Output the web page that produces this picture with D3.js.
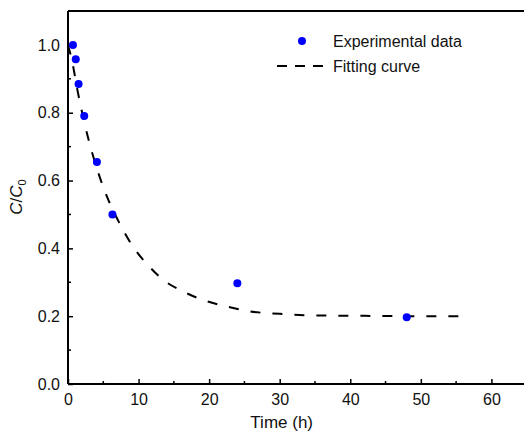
<!DOCTYPE html>
<html>
<head>
<meta charset="utf-8">
<script src="https://cdn.jsdelivr.net/npm/d3@7"></script>
<style>
  body { margin: 0; background: #fff; }
  svg { display: block; font-family: "Liberation Sans", Arial, sans-serif; }
</style>
</head>
<body>
<svg id="chart"></svg>
<script>
// experimental points (time in h, C/C0)
const expTime = [0.7, 1.1, 1.5, 2.3, 4.1, 6.3, 24, 48];
const expValue = [1.0, 0.958, 0.885, 0.79, 0.655, 0.5, 0.297, 0.197];

// fitting curve
const fitTime = [0, 0.5, 1.4, 2.8, 4.5, 5.9, 7.3, 9.2, 11.1, 13.5, 16.3, 19.1, 22.4, 25.8, 30, 35.2, 42, 48, 56];
const fitValue = [1.0, 0.96, 0.86, 0.73, 0.61, 0.534, 0.474, 0.405, 0.356, 0.307, 0.273, 0.248, 0.229, 0.214, 0.207, 0.202, 0.201, 0.2, 0.2];

const xTicks = [0, 10, 20, 30, 40, 50, 60];
const yTicks = [0.0, 0.2, 0.4, 0.6, 0.8, 1.0];

const W = 524, H = 434;
var margin = { top: 11, left: 68, bottom: 50 };
var height = H - margin.top - margin.bottom;

const svg = d3.select("#chart").attr("width", W).attr("height", H);
const g = svg.append("g").attr("transform", `translate(${margin.left},${margin.top})`);

const x = d3.scaleLinear().domain([0, 60]).range([0, 423.4]);
const y = d3.scaleLinear().domain([0, 1.1]).range([height, 0]);
const xMax = x(65);

// frame (left, bottom, top)
g.append("line").attr("x1", 0).attr("x2", xMax).attr("y1", 0).attr("y2", 0)
  .attr("stroke", "#000").attr("stroke-width", 2);

// X axis with inner ticks
const xAxis = g.append("g").attr("transform", `translate(0,${height})`)
  .call(d3.axisBottom(x).tickValues(xTicks).tickSize(-5).tickPadding(9).tickFormat(d3.format("d")));
xAxis.select(".domain").attr("d", `M0,0H${xMax}`).attr("stroke-width", 2);
xAxis.selectAll(".tick line").attr("stroke-width", 1.5);
xAxis.selectAll("text").attr("font-size", 16).attr("fill", "#111").attr("dy", "0.75em");
g.append("g").selectAll("line")
  .data(d3.range(5, 65, 10))
  .join("line")
  .attr("x1", d => x(d)).attr("x2", d => x(d))
  .attr("y1", height).attr("y2", height - 3)
  .attr("stroke", "#000").attr("stroke-width", 1.5);

// Y axis with inner ticks
const yAxis = g.append("g")
  .call(d3.axisLeft(y).tickValues(yTicks).tickSize(-5).tickPadding(8).tickFormat(d3.format(".1f")));
yAxis.select(".domain").attr("d", `M0,${height}V0`).attr("stroke-width", 2);
yAxis.selectAll(".tick line").attr("stroke-width", 1.5);
yAxis.selectAll("text").attr("font-size", 16).attr("fill", "#111");
g.append("g").selectAll("line")
  .data([0.1, 0.3, 0.5, 0.7, 0.9])
  .join("line")
  .attr("x1", 0).attr("x2", 3)
  .attr("y1", d => y(d)).attr("y2", d => y(d))
  .attr("stroke", "#000").attr("stroke-width", 1.5);

// fitting curve
const fitData = fitTime.map((t, i) => ({ t: t, v: fitValue[i] }));
const line = d3.line()
  .x(d => x(d.t))
  .y(d => y(d.v))
  .curve(d3.curveMonotoneX);
g.append("path")
  .datum(fitData)
  .attr("d", line)
  .attr("fill", "none")
  .attr("stroke", "#000")
  .attr("stroke-width", 2)
  .attr("stroke-dasharray", "10,12");

// experimental points
g.selectAll(".point")
  .data(expTime.map((t, i) => ({ t: t, v: expValue[i] })))
  .join("circle")
  .attr("class", "point")
  .attr("cx", d => x(d.t))
  .attr("cy", d => y(d.v))
  .attr("r", 4)
  .attr("fill", "#0000ff");

// axis titles
svg.append("text")
  .attr("x", margin.left + x(30) + 2)
  .attr("y", 428)
  .attr("text-anchor", "middle")
  .attr("font-size", 17)
  .attr("fill", "#111")
  .text("Time (h)");

const yLabel = svg.append("text")
  .attr("transform", "translate(22,197) rotate(-90)")
  .attr("text-anchor", "middle")
  .attr("font-size", 17)
  .attr("fill", "#111");
yLabel.append("tspan").attr("font-style", "italic").text("C");
yLabel.append("tspan").text("/");
yLabel.append("tspan").attr("font-style", "italic").text("C");
yLabel.append("tspan").attr("font-size", 11).attr("dy", 4).text("0");

// legend
const legend = svg.append("g");
legend.append("circle").attr("cx", 302).attr("cy", 41).attr("r", 4).attr("fill", "#0000ff");
legend.append("text").attr("x", 333).attr("y", 47).attr("font-size", 16).attr("fill", "#111")
  .text("Experimental data");
legend.append("line").attr("x1", 277).attr("x2", 325).attr("y1", 66).attr("y2", 66)
  .attr("stroke", "#000").attr("stroke-width", 2).attr("stroke-dasharray", "10,8");
legend.append("text").attr("x", 333).attr("y", 72).attr("font-size", 16).attr("fill", "#111")
  .text("Fitting curve");
</script>
</body>
</html>
